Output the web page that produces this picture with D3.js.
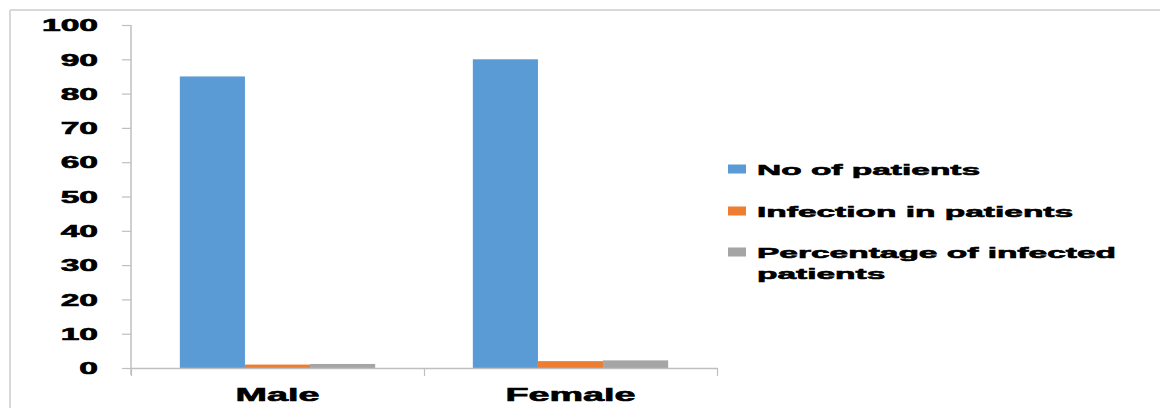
<!DOCTYPE html>
<html>
<head>
<meta charset="utf-8">
<script src="https://cdn.jsdelivr.net/npm/d3@7"></script>
<style>
  html, body { margin: 0; padding: 0; background: #fff; }
  svg { display: block; }
  text { font-family: "Liberation Sans", Arial, sans-serif; font-weight: 700; fill: #000; }
</style>
</head>
<body>
<svg id="chart" width="1160" height="408"></svg>
<script>
// Categories, series and values
const categories = ["Male", "Female"];
const seriesNames = ["No of patients", "Infection in patients", "Percentage of infected patients"];
const legendLines = [["No of patients"], ["Infection in patients"], ["Percentage of infected", "patients"]];
const noOfPatients = [85, 90];
const infectionInPatients = [1, 2];
const percentageInfected = [1.18, 2.22];
const seriesColors = ["#5b9bd5", "#ed7d31", "#a5a5a5"];
const yTicks = [0, 10, 20, 30, 40, 50, 60, 70, 80, 90, 100];

const seriesValues = [noOfPatients, infectionInPatients, percentageInfected];
const rows = categories.map((c, i) => ({
  category: c,
  values: seriesNames.map((s, j) => ({ series: s, value: seriesValues[j][i], color: seriesColors[j] }))
}));

const svg = d3.select("#chart");
const SX = 2.1;        // wide lettering on the axes
const SX_LEGEND = 2.16; // legend lettering

// Outer frame (top and left edges)
svg.append("line").attr("x1", 10).attr("x2", 1160).attr("y1", 10).attr("y2", 10)
  .attr("stroke", "#d9d9d9").attr("stroke-width", 2);
svg.append("line").attr("x1", 10).attr("x2", 10).attr("y1", 10).attr("y2", 408)
  .attr("stroke", "#d9d9d9").attr("stroke-width", 2);

const plotLeft = 131, plotRight = 717, plotTop = 25, plotBottom = 368;

const y = d3.scaleLinear().domain([0, 100]).range([plotBottom, plotTop]);
const x0 = d3.scaleBand().domain(categories).range([plotLeft, plotRight]).paddingInner(0).paddingOuter(0);
const bw = x0.bandwidth();
const x1 = d3.scaleBand().domain(seriesNames).range([bw / 6, bw * 5 / 6]).padding(0);

// Bars
const groups = svg.append("g").selectAll("g").data(rows).join("g")
  .attr("transform", d => `translate(${x0(d.category)},0)`);
groups.selectAll("rect").data(d => d.values).join("rect")
  .attr("x", d => x1(d.series))
  .attr("width", x1.bandwidth())
  .attr("y", d => y(d.value))
  .attr("height", d => y(0) - y(d.value))
  .attr("fill", d => d.color);

// Y axis
const yAxis = svg.append("g").attr("transform", `translate(${plotLeft},0)`)
  .call(d3.axisLeft(y).tickValues(yTicks).tickSize(9).tickSizeOuter(0).tickPadding(0));
yAxis.select(".domain").attr("stroke", "#bfbfbf").attr("stroke-width", 1.5)
  .attr("d", `M0,${plotTop}V${plotBottom + 7}`);
yAxis.selectAll(".tick line").attr("stroke", "#bfbfbf").attr("stroke-width", 1.2);
yAxis.selectAll(".tick text")
  .attr("x", 0).attr("dy", "0.36em")
  .attr("text-anchor", "end")
  .attr("transform", `translate(-33,0) scale(${SX},1)`)
  .style("font-size", "16px").style("font-weight", 700)
  .attr("fill", "#000").attr("stroke", "#000").attr("stroke-width", 0.6)
  .style("font-family", '"Liberation Sans", Arial, sans-serif');

// X axis: boundary ticks
const xb = d3.scaleLinear().domain([0, categories.length]).range([plotLeft, plotRight]);
const xAxisLine = svg.append("g").attr("transform", `translate(0,${plotBottom})`)
  .call(d3.axisBottom(xb).tickValues(d3.range(categories.length + 1)).tickSize(8).tickSizeOuter(0).tickFormat(""));
xAxisLine.select(".domain").attr("stroke", "#bfbfbf").attr("stroke-width", 1.5);
xAxisLine.selectAll(".tick line").attr("stroke", "#bfbfbf").attr("stroke-width", 1.2);

// X axis: category labels
const xAxis = svg.append("g").attr("transform", `translate(0,${plotBottom})`)
  .call(d3.axisBottom(x0).tickSize(0).tickPadding(0));
xAxis.select(".domain").remove();
xAxis.selectAll(".tick text")
  .attr("y", 0).attr("dy", 0)
  .attr("text-anchor", "middle")
  .attr("transform", `translate(0,33) scale(${SX},1)`)
  .style("font-size", "18px").style("font-weight", 700)
  .attr("fill", "#000").attr("stroke", "#000").attr("stroke-width", 0.6)
  .style("font-family", '"Liberation Sans", Arial, sans-serif');

// Legend
const legendY = [169, 211, 252];
const legend = svg.append("g").selectAll("g").data(seriesNames).join("g")
  .attr("transform", (d, i) => `translate(728,${legendY[i]})`);
legend.append("rect").attr("x", 0).attr("y", -4.5).attr("width", 18).attr("height", 9)
  .attr("fill", (d, i) => seriesColors[i]);
legend.each(function (d, i) {
  const g = d3.select(this);
  legendLines[i].forEach((line, k) => {
    g.append("text")
      .attr("transform", `translate(29,${k * 21}) scale(${SX_LEGEND},1)`)
      .attr("dy", "0.36em")
      .style("font-size", "15.5px")
      .attr("stroke", "#000").attr("stroke-width", 0.6)
      .text(line);
  });
});
</script>
</body>
</html>
